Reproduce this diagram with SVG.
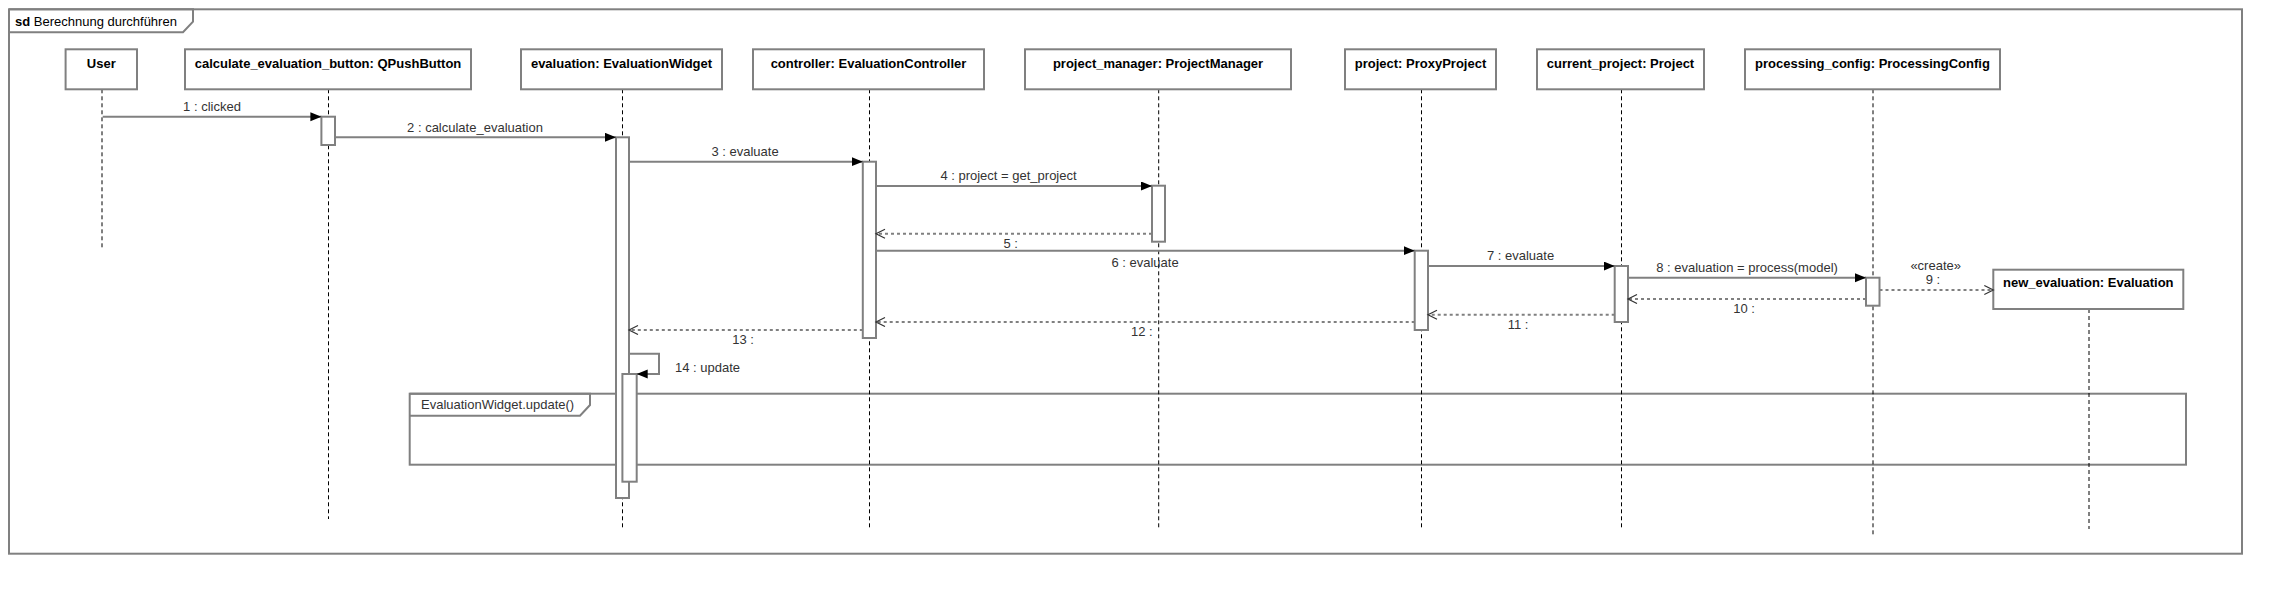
<svg xmlns="http://www.w3.org/2000/svg" width="2282" height="594" viewBox="0 0 2282 594">
<style>
text{font-family:"Liberation Sans",Arial,sans-serif;font-size:13px}
.hd{font-weight:bold;fill:#000;text-anchor:middle}
.lb{fill:#333;text-anchor:middle}
.box{fill:#fff;stroke:#808080;stroke-width:2}
.act{fill:#fff;stroke:#808080;stroke-width:2}
.life{stroke:#000;stroke-width:1;stroke-dasharray:4 3;fill:none}
.msg{stroke:#808080;stroke-width:2;fill:none;marker-end:url(#fa)}
.ret{stroke:#808080;stroke-width:2;stroke-dasharray:3 3;fill:none;marker-end:url(#oa)}
.frm{fill:none;stroke:#808080;stroke-width:2}
</style>
<defs>
<marker id="fa" markerUnits="userSpaceOnUse" markerWidth="12" markerHeight="10" refX="11" refY="4.5" orient="auto"><path d="M0,0 L11,4.5 L0,9 z" fill="#000"/></marker>
<marker id="oa" markerUnits="userSpaceOnUse" markerWidth="12" markerHeight="12" refX="10" refY="5" orient="auto"><path d="M1,0.5 L10,5 L1,9.5" fill="none" stroke="#333" stroke-width="1.2"/></marker>
</defs>
<rect width="2282" height="594" fill="#fff"/>
<g id="frame">
<rect x="9" y="9.3" width="2233" height="544.4" class="frm"/>
<path d="M9,9.3 H193 V21.7 L183,32.3 H9" class="frm" fill="#fff"/>
<text x="15" y="26"><tspan font-weight="bold">sd</tspan> Berechnung durchführen</text>
</g>
<g id="fragment">
<rect x="409.7" y="393.7" width="1776.3" height="71" class="frm"/>
<path d="M409.7,393.7 H590 V405 L580,415.7 H409.7" class="frm"/>
<text x="421" y="409" fill="#333">EvaluationWidget.update()</text>
</g>
<g id="lifelines">
<line x1="102" y1="89.3" x2="102" y2="249" class="life"/>
<line x1="328.5" y1="89.3" x2="328.5" y2="519" class="life"/>
<line x1="622.5" y1="89.3" x2="622.5" y2="529" class="life"/>
<line x1="869.5" y1="89.3" x2="869.5" y2="529" class="life"/>
<line x1="1158.7" y1="89.3" x2="1158.7" y2="529" class="life"/>
<line x1="1421.5" y1="89.3" x2="1421.5" y2="529" class="life"/>
<line x1="1621.5" y1="89.3" x2="1621.5" y2="529" class="life"/>
<line x1="1873" y1="89.3" x2="1873" y2="536.7" class="life"/>
<line x1="2089" y1="309" x2="2089" y2="529" class="life"/>
</g>
<g id="user"><rect x="65.6" y="49.3" width="71.4" height="40" class="box"/><text x="101.3" y="67.5" class="hd">User</text></g>
<g id="button"><rect x="185" y="49.3" width="286" height="40" class="box"/><text x="328" y="67.5" class="hd">calculate_evaluation_button: QPushButton</text></g>
<g id="widget"><rect x="521" y="49.3" width="201" height="40" class="box"/><text x="621.5" y="67.5" class="hd">evaluation: EvaluationWidget</text></g>
<g id="controller"><rect x="753" y="49.3" width="231" height="40" class="box"/><text x="868.5" y="67.5" class="hd">controller: EvaluationController</text></g>
<g id="project_manager"><rect x="1025" y="49.3" width="266" height="40" class="box"/><text x="1158" y="67.5" class="hd">project_manager: ProjectManager</text></g>
<g id="project"><rect x="1345" y="49.3" width="151" height="40" class="box"/><text x="1420.5" y="67.5" class="hd">project: ProxyProject</text></g>
<g id="current_project"><rect x="1537" y="49.3" width="167" height="40" class="box"/><text x="1620.5" y="67.5" class="hd">current_project: Project</text></g>
<g id="processing_config"><rect x="1745" y="49.3" width="255" height="40" class="box"/><text x="1872.5" y="67.5" class="hd">processing_config: ProcessingConfig</text></g>
<g id="new_evaluation"><rect x="1993.3" y="269.7" width="190" height="39.3" class="box"/><text x="2088.3" y="287" class="hd">new_evaluation: Evaluation</text></g>
<g id="activations">
<rect x="321.4" y="116.7" width="13.6" height="28.3" class="act"/>
<rect x="616" y="137.3" width="13" height="360.7" class="act"/>
<rect x="622.4" y="374" width="14.3" height="107.7" class="act"/>
<rect x="862.8" y="161.7" width="13.2" height="176.3" class="act"/>
<rect x="1152" y="185.7" width="13" height="56" class="act"/>
<rect x="1414.7" y="250.7" width="13.3" height="79.3" class="act"/>
<rect x="1614.7" y="266" width="13.3" height="56" class="act"/>
<rect x="1866" y="277.7" width="13.5" height="28" class="act"/>
</g>
<g id="connectors">
<line x1="102.7" y1="116.7" x2="321.4" y2="116.7" class="msg"/>
<text x="212" y="111" class="lb">1 : clicked</text>
<line x1="335" y1="137.3" x2="616" y2="137.3" class="msg"/>
<text x="475" y="132" class="lb">2 : calculate_evaluation</text>
<line x1="629" y1="161.7" x2="862.8" y2="161.7" class="msg"/>
<text x="745" y="156" class="lb">3 : evaluate</text>
<line x1="876" y1="186" x2="1152" y2="186" class="msg"/>
<text x="1008.5" y="180" class="lb">4 : project = get_project</text>
<line x1="1152" y1="233.7" x2="876" y2="233.7" class="ret"/>
<text x="1010.7" y="248" class="lb">5 :</text>
<line x1="876" y1="250.7" x2="1414.7" y2="250.7" class="msg"/>
<text x="1145" y="267" class="lb">6 : evaluate</text>
<line x1="1428" y1="266" x2="1614.7" y2="266" class="msg"/>
<text x="1520.5" y="260" class="lb">7 : evaluate</text>
<line x1="1628" y1="277.7" x2="1866" y2="277.7" class="msg"/>
<text x="1747" y="272" class="lb">8 : evaluation = process(model)</text>
<line x1="1879.5" y1="290" x2="1993.3" y2="290" class="ret"/>
<text x="1935.7" y="269.5" class="lb" font-size="12">«create»</text>
<text x="1933" y="284" class="lb">9 :</text>
<line x1="1866" y1="299" x2="1628" y2="299" class="ret"/>
<text x="1744" y="313" class="lb">10 :</text>
<line x1="1614.7" y1="314.7" x2="1428" y2="314.7" class="ret"/>
<text x="1518" y="329" class="lb">11 :</text>
<line x1="1414.7" y1="322" x2="876" y2="322" class="ret"/>
<text x="1141.8" y="336" class="lb">12 :</text>
<line x1="862.8" y1="330" x2="629" y2="330" class="ret"/>
<text x="743" y="344" class="lb">13 :</text>
<path d="M629,353.7 H659 V374 H636.7" class="msg"/>
<text x="675" y="372" fill="#333">14 : update</text>
</g>
</svg>
